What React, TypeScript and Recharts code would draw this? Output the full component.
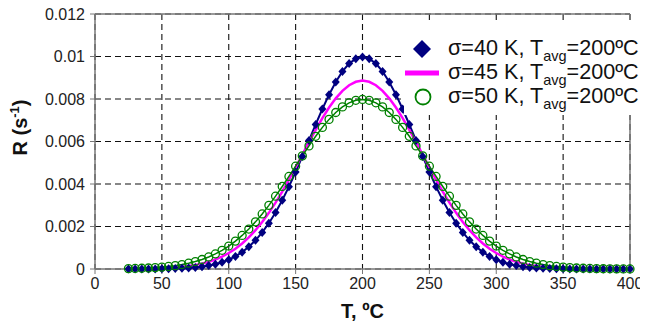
import React from 'react';
import {
  LineChart,
  Line,
  XAxis,
  YAxis,
  CartesianGrid,
  Legend,
  ReferenceLine
} from 'recharts';

const temps = [
  25, 30, 35, 40, 45, 50, 55, 60, 65, 70, 75, 80, 85, 90, 95, 100, 105, 110, 115, 120,
  125, 130, 135, 140, 145, 150, 155, 160, 165, 170, 175, 180, 185, 190, 195, 200,
  205, 210, 215, 220, 225, 230, 235, 240, 245, 250, 255, 260, 265, 270, 275, 280,
  285, 290, 295, 300, 305, 310, 315, 320, 325, 330, 335, 340, 345, 350, 355, 360,
  365, 370, 375, 380, 385, 390, 395, 400
];

// sigma = 40 K
const sigma40 = [
  0.000001, 0.000001, 0.000002, 0.000003, 0.000005, 0.000009, 0.000014, 0.000022, 0.000034, 0.000051,
  0.000076, 0.000111, 0.00016, 0.000227, 0.000318, 0.000438, 0.000594, 0.000794, 0.001043, 0.00135,
  0.00172, 0.002157, 0.002663, 0.003238, 0.003875, 0.004566, 0.005297, 0.006049, 0.006801, 0.007528,
  0.008204, 0.008802, 0.009296, 0.009667, 0.009896, 0.009974,
  0.009896, 0.009667, 0.009296, 0.008802, 0.008204, 0.007528, 0.006801, 0.006049, 0.005297, 0.004566,
  0.003875, 0.003238, 0.002663, 0.002157, 0.00172, 0.00135, 0.001043, 0.000794, 0.000594, 0.000438,
  0.000318, 0.000227, 0.00016, 0.000111, 0.000076, 0.000051, 0.000034, 0.000022, 0.000014, 0.000009,
  0.000005, 0.000003, 0.000002, 0.000001, 0.000001, 0, 0, 0, 0, 0
];

// sigma = 45 K
const sigma45 = [
  0.000005, 0.000007, 0.000011, 0.000016, 0.000024, 0.000034, 0.000049, 0.00007, 0.000098, 0.000137,
  0.000187, 0.000253, 0.000338, 0.000447, 0.000583, 0.000751, 0.000955, 0.0012, 0.001489, 0.001826,
  0.002211, 0.002644, 0.003123, 0.003645, 0.004201, 0.004782, 0.005377, 0.005972, 0.006551, 0.007099,
  0.007598, 0.008032, 0.008386, 0.008649, 0.008811, 0.008865,
  0.008811, 0.008649, 0.008386, 0.008032, 0.007598, 0.007099, 0.006551, 0.005972, 0.005377, 0.004782,
  0.004201, 0.003645, 0.003123, 0.002644, 0.002211, 0.001826, 0.001489, 0.0012, 0.000955, 0.000751,
  0.000583, 0.000447, 0.000338, 0.000253, 0.000187, 0.000137, 0.000098, 0.00007, 0.000049, 0.000034,
  0.000024, 0.000016, 0.000011, 0.000007, 0.000005, 0.000003, 0.000002, 0.000001, 0.000001, 0
];

// sigma = 50 K
const sigma50 = [
  0.000018, 0.000025, 0.000035, 0.000048, 0.000065, 0.000089, 0.000119, 0.000158, 0.000208, 0.000272,
  0.000351, 0.000448, 0.000567, 0.000709, 0.00088, 0.00108, 0.001312, 0.001579, 0.001881, 0.002218,
  0.00259, 0.002995, 0.003427, 0.003884, 0.004357, 0.004839, 0.005322, 0.005794, 0.006245, 0.006664,
  0.007041, 0.007365, 0.007628, 0.007821, 0.007939, 0.007979,
  0.007939, 0.007821, 0.007628, 0.007365, 0.007041, 0.006664, 0.006245, 0.005794, 0.005322, 0.004839,
  0.004357, 0.003884, 0.003427, 0.002995, 0.00259, 0.002218, 0.001881, 0.001579, 0.001312, 0.00108,
  0.00088, 0.000709, 0.000567, 0.000448, 0.000351, 0.000272, 0.000208, 0.000158, 0.000119, 0.000089,
  0.000065, 0.000048, 0.000035, 0.000025, 0.000018, 0.000012, 0.000009, 0.000006, 0.000004, 0.000003
];

const xTicks = [0, 50, 100, 150, 200, 250, 300, 350, 400];
const yTicks = [0, 0.002, 0.004, 0.006, 0.008, 0.01, 0.012];
const sigmaLabels = ['40', '45', '50'];

const data = temps.map((t, i) => ({
  T: t,
  s40: sigma40[i],
  s45: sigma45[i],
  s50: sigma50[i]
}));

const FONT = '"Liberation Sans", Arial, Helvetica, sans-serif';
const NAVY = '#000080';
const MAGENTA = '#ff00ff';
const GREEN = '#008000';
const AXIS = '#777';

const Diamond = (props: any) => {
  const { cx, cy, index } = props;
  if (cx == null || cy == null) return null;
  return (
    <path
      key={`d-${index}`}
      d={`M${cx},${cy - 4.5}L${cx + 4},${cy}L${cx},${cy + 4.5}L${cx - 4},${cy}Z`}
      fill={NAVY}
    />
  );
};

const LegendMarker = ({ i }: { i: number }) => {
  if (i === 0) {
    return (
      <svg width={36} height={24}>
        <path d="M18,3L27,12L18,21L9,12Z" fill={NAVY} />
      </svg>
    );
  }
  if (i === 1) {
    return (
      <svg width={36} height={24}>
        <rect x={1} y={9.5} width={34} height={5} fill={MAGENTA} />
      </svg>
    );
  }
  return (
    <svg width={36} height={24}>
      <circle cx={19} cy={12} r={7.5} fill="none" stroke={GREEN} strokeWidth={1.8} />
    </svg>
  );
};

const LegendContent = () => (
  <div
    style={{
      background: '#fff',
      fontFamily: FONT,
      fontSize: 21.6,
      color: '#111',
      paddingTop: 17,
      paddingBottom: 6,
      boxSizing: 'border-box'
    }}
  >
    {sigmaLabels.map((s, i) => (
      <div key={s} style={{ display: 'flex', alignItems: 'center', height: 24, whiteSpace: 'nowrap' }}>
        <LegendMarker i={i} />
        <span style={{ marginLeft: 8, lineHeight: '24px' }}>
          σ={s} K, T
          <span style={{ fontSize: 14.5, position: 'relative', top: 6 }}>avg</span>
          =200ºC
        </span>
      </div>
    ))}
  </div>
);

const XLabel = (props: any) => {
  const vb = props.viewBox || {};
  return (
    <text
      x={vb.x + vb.width / 2}
      y={vb.y + 49}
      textAnchor="middle"
      fontFamily={FONT}
      fontSize={20}
      fontWeight="bold"
      fill="#111"
    >
      T, ºC
    </text>
  );
};

const YLabel = (props: any) => {
  const vb = props.viewBox || {};
  const cx = 27;
  const cy = vb.y + vb.height / 2 - 14;
  return (
    <text
      transform={`translate(${cx},${cy}) rotate(-90)`}
      textAnchor="middle"
      fontFamily={FONT}
      fontSize={20}
      fontWeight="bold"
      fill="#111"
    >
      R (s
      <tspan fontSize={13} dy={-8}>-1</tspan>
      <tspan dy={8}>)</tspan>
    </text>
  );
};

export default function App() {
  return (
    <div style={{ width: 648, height: 331, margin: -8, background: '#fff' }}>
      <LineChart
        width={648}
        height={331}
        data={data}
        margin={{ top: 14, right: 18, left: 35, bottom: 22 }}
      >
        <CartesianGrid stroke="#111" strokeDasharray="6 4" strokeWidth={1.1} />
        <XAxis
          dataKey="T"
          type="number"
          domain={[0, 400]}
          ticks={xTicks}
          height={40}
          tickSize={5}
          tickMargin={4}
          axisLine={{ stroke: AXIS, strokeWidth: 1.5 }}
          tickLine={{ stroke: AXIS }}
          tick={{ fill: '#222', fontSize: 16, fontFamily: FONT }}
          label={<XLabel />}
        />
        <YAxis
          type="number"
          domain={[0, 0.012]}
          ticks={yTicks}
          width={60}
          tickSize={5}
          tickMargin={5}
          tickFormatter={(v: number) => String(v)}
          axisLine={{ stroke: AXIS, strokeWidth: 1.5 }}
          tickLine={{ stroke: AXIS }}
          tick={{ fill: '#222', fontSize: 16, fontFamily: FONT }}
          label={<YLabel />}
        />
        <ReferenceLine y={0.012} stroke={AXIS} strokeWidth={1.5} />
        <ReferenceLine x={400} stroke={AXIS} strokeWidth={1.5} />
        <Line
          dataKey="s40"
          stroke={NAVY}
          strokeWidth={2}
          dot={<Diamond />}
          isAnimationActive={false}
        />
        <Line
          dataKey="s45"
          stroke={MAGENTA}
          strokeWidth={2.5}
          dot={false}
          isAnimationActive={false}
        />
        <Line
          dataKey="s50"
          stroke={GREEN}
          strokeWidth={1.5}
          dot={{ r: 4, stroke: GREEN, strokeWidth: 1.3, fill: 'none' }}
          isAnimationActive={false}
        />
        <Legend
          layout="vertical"
          align="center"
          verticalAlign="middle"
          wrapperStyle={{ left: 404, top: 20, width: 244 }}
          content={<LegendContent />}
        />
      </LineChart>
    </div>
  );
}
